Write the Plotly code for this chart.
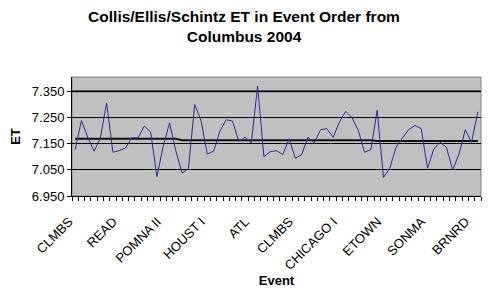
import plotly.graph_objects as go

# Event order index and ET values
et_values = [
    7.127, 7.238, 7.175, 7.121, 7.170, 7.305, 7.117, 7.123, 7.133, 7.172,
    7.172, 7.217, 7.194, 7.024, 7.140, 7.229, 7.123, 7.037, 7.055, 7.299,
    7.238, 7.110, 7.121, 7.197, 7.241, 7.236, 7.159, 7.174, 7.153, 7.369,
    7.100, 7.119, 7.123, 7.108, 7.168, 7.094, 7.108, 7.174, 7.153, 7.203,
    7.207, 7.174, 7.232, 7.273, 7.249, 7.200, 7.117, 7.127, 7.277, 7.021,
    7.056, 7.136, 7.171, 7.203, 7.219, 7.207, 7.056, 7.129, 7.155, 7.136,
    7.049, 7.110, 7.203, 7.155, 7.271,
]
# running average line (black)
avg_values = [
    7.168, 7.168, 7.168, 7.168, 7.168, 7.168, 7.168, 7.168, 7.168, 7.168,
    7.168, 7.168, 7.168, 7.168, 7.168, 7.168, 7.168, 7.163, 7.163, 7.163,
    7.163, 7.163, 7.163, 7.163, 7.163, 7.163, 7.163, 7.163, 7.163, 7.163,
    7.163, 7.163, 7.163, 7.163, 7.163, 7.163, 7.163, 7.163, 7.163, 7.163,
    7.163, 7.163, 7.163, 7.163, 7.163, 7.163, 7.163, 7.163, 7.160, 7.160,
    7.160, 7.160, 7.160, 7.160, 7.160, 7.160, 7.160, 7.160, 7.160, 7.160,
    7.160, 7.160, 7.160, 7.160, 7.160,
]
event_index = list(range(len(et_values)))

tick_positions = [0, 7, 14, 21, 28, 35, 42, 49, 56, 63]
tick_labels = ["CLMBS", "READ", "POMNA II", "HOUST I", "ATL", "CLMBS",
               "CHICAGO I", "ETOWN", "SONMA", "BRNRD"]

y_ticks = [6.95, 7.05, 7.15, 7.25, 7.35]
y_tick_text = ["6.950", "7.050", "7.150", "7.250", "7.350"]
y_range = [6.95, 7.404]

FONT = "Liberation Sans, Arial, sans-serif"

fig = go.Figure()
fig.add_trace(go.Scatter(
    x=event_index, y=avg_values, mode="lines",
    line=dict(color="#111111", width=2), hoverinfo="skip", showlegend=False,
))
fig.add_trace(go.Scatter(
    x=event_index, y=et_values, mode="lines",
    line=dict(color="#2e2e8f", width=1), showlegend=False,
))

# heavier top grid line
fig.add_shape(type="line", xref="paper", x0=0, x1=1, yref="y",
              y0=y_ticks[-1], y1=y_ticks[-1],
              line=dict(color="#333333", width=2), layer="between")
# plot area border (gray top/right)
fig.add_shape(type="rect", xref="paper", yref="paper", x0=0, x1=1, y0=0, y1=1,
              line=dict(color="#808080", width=1), layer="below")

fig.update_layout(
    width=488, height=291,
    margin=dict(l=72, r=7, t=77, b=95),
    paper_bgcolor="white",
    plot_bgcolor="#c0c0c0",
    font=dict(family=FONT, size=13, color="black"),
    title=dict(
        text="<b>Collis/Ellis/Schintz ET in Event Order from<br>Columbus 2004</b>",
        x=0.5, xref="container", xanchor="center",
        y=1 - 22 / 291, yref="container", yanchor="middle",
        font=dict(family=FONT, size=15.5, color="black"),
    ),
    xaxis=dict(
        range=[-0.5, len(et_values) - 0.5], automargin=False,
        tickmode="array", tickvals=tick_positions, ticktext=tick_labels,
        tickangle=-45, ticks="", showgrid=False, zeroline=False,
        showline=True, linecolor="black", linewidth=1,
        tickfont=dict(size=13), ticklabelstandoff=12, ticklabelshift=-6,
        minor=dict(ticks="outside", tick0=-0.5, dtick=1, ticklen=4,
                   tickcolor="black", tickwidth=1, showgrid=False),
        title=dict(text="<b>Event</b>", font=dict(size=13), standoff=2),
    ),
    yaxis=dict(
        range=y_range, automargin=False,
        tickmode="array", tickvals=y_ticks, ticktext=y_tick_text,
        ticks="outside", ticklen=4, tickcolor="black",
        showgrid=True, gridcolor="black", gridwidth=1, zeroline=False,
        showline=True, linecolor="black", linewidth=1,
        tickfont=dict(size=13),
        title=dict(text="<b>ET</b>", font=dict(size=13), standoff=8),
    ),
)

fig.write_html("out.html")
